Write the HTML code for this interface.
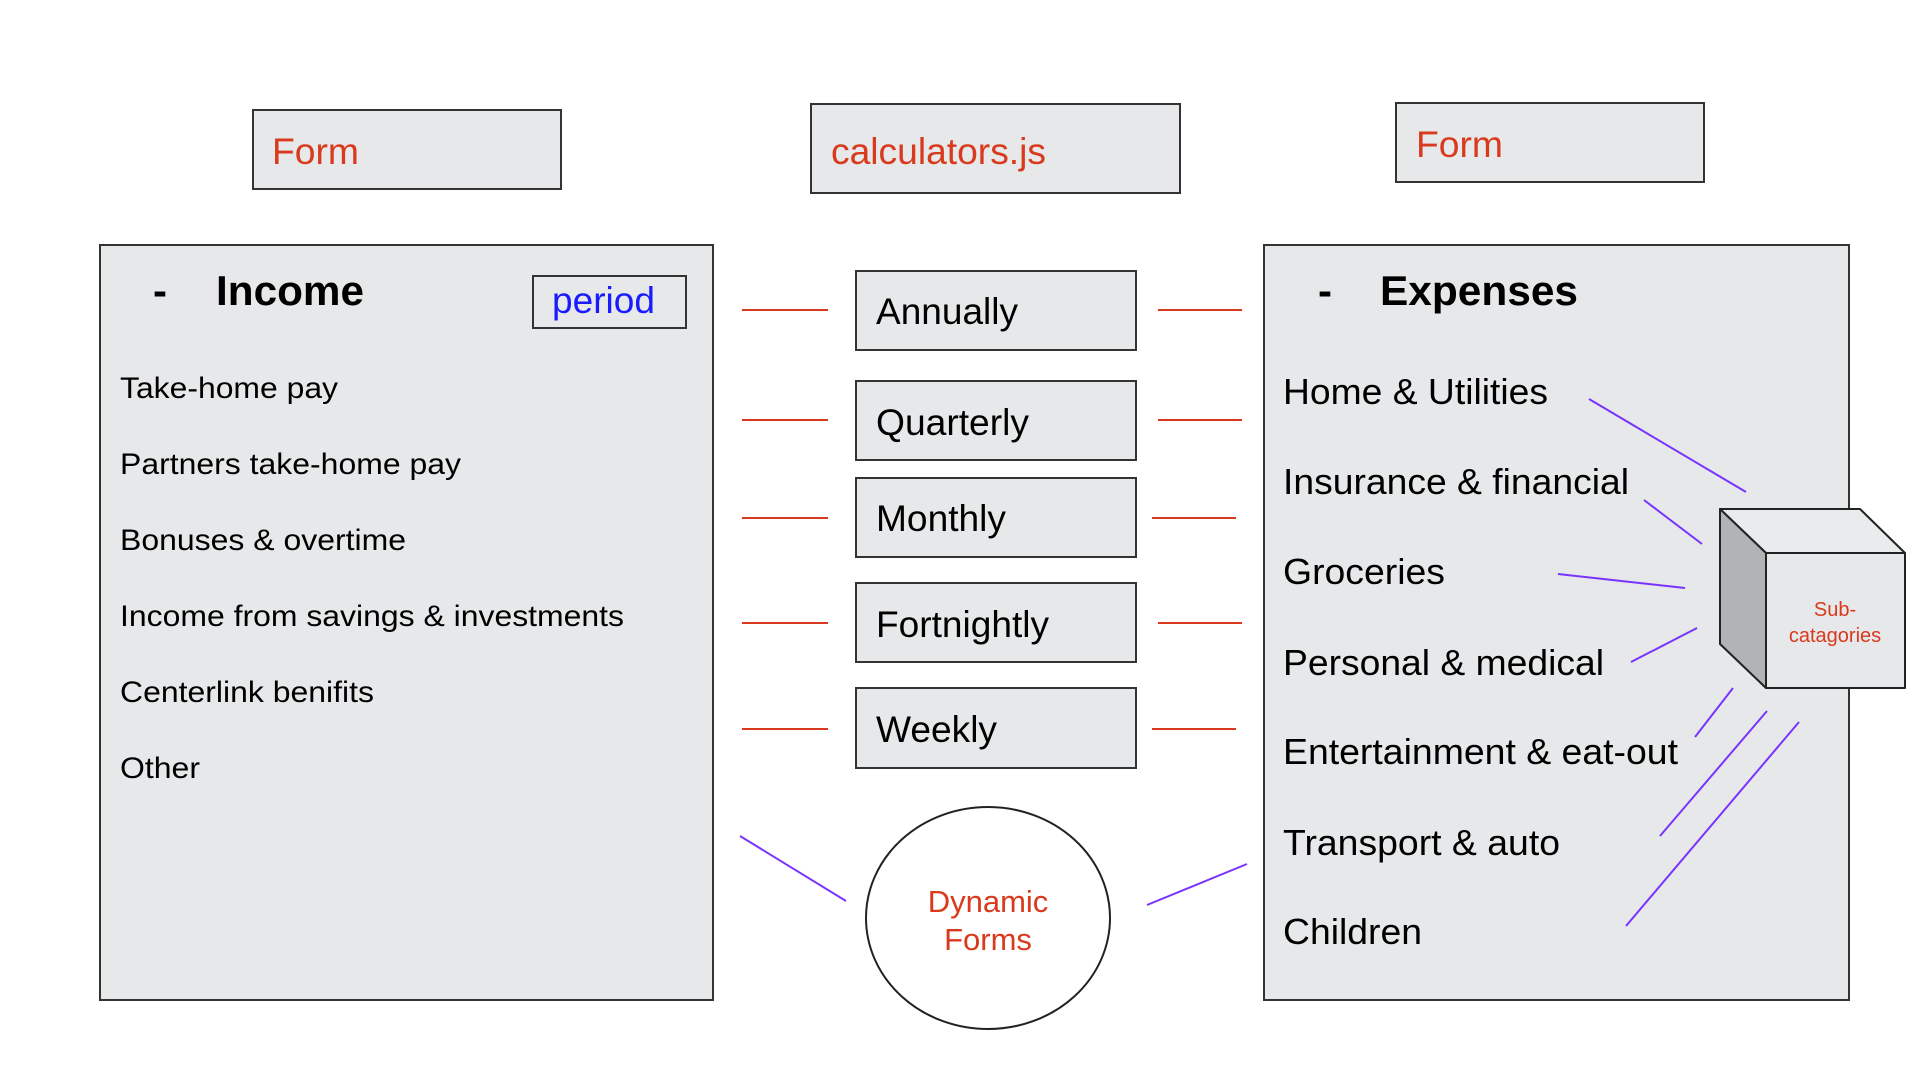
<!DOCTYPE html>
<html><head><meta charset="utf-8"><style>html,body{margin:0;padding:0;background:#fff}svg{display:block}</style></head>
<body>
<svg width="1920" height="1080" viewBox="0 0 1920 1080" xmlns="http://www.w3.org/2000/svg" font-family="Liberation Sans, Arial, sans-serif">
<g fill="#e6e8e9" stroke="#333" stroke-width="2">
<rect x="253" y="110" width="308" height="79"/>
<rect x="811" y="104" width="369" height="89"/>
<rect x="1396" y="103" width="308" height="79"/>
<rect x="100" y="245" width="613" height="755"/>
<rect x="1264" y="245" width="585" height="755"/>
<rect x="533" y="276" width="153" height="52"/>
<rect x="856" y="271" width="280" height="79"/>
<rect x="856" y="381" width="280" height="79"/>
<rect x="856" y="478" width="280" height="79"/>
<rect x="856" y="583" width="280" height="79"/>
<rect x="856" y="688" width="280" height="80"/>
</g>
<ellipse cx="988" cy="918" rx="122" ry="111" fill="#fff" stroke="#222" stroke-width="2"/>
<g stroke="#d9391c" stroke-width="2">
<line x1="742" y1="310" x2="828" y2="310"/><line x1="1158" y1="310" x2="1242" y2="310"/>
<line x1="742" y1="420" x2="828" y2="420"/><line x1="1158" y1="420" x2="1242" y2="420"/>
<line x1="742" y1="518" x2="828" y2="518"/><line x1="1152" y1="518" x2="1236" y2="518"/>
<line x1="742" y1="623" x2="828" y2="623"/><line x1="1158" y1="623" x2="1242" y2="623"/>
<line x1="742" y1="729" x2="828" y2="729"/><line x1="1152" y1="729" x2="1236" y2="729"/>
</g>
<g stroke="#7a33ff" stroke-width="2">
<line x1="740" y1="836" x2="846" y2="901"/>
<line x1="1147" y1="905" x2="1247" y2="864"/>
<line x1="1589" y1="399" x2="1746" y2="492"/>
<line x1="1644" y1="500" x2="1702" y2="544"/>
<line x1="1558" y1="574" x2="1685" y2="588"/>
<line x1="1631" y1="662" x2="1697" y2="628"/>
<line x1="1695" y1="737" x2="1733" y2="688"/>
<line x1="1660" y1="836" x2="1767" y2="711"/>
<line x1="1626" y1="926" x2="1799" y2="722"/>
</g>
<g stroke="#222" stroke-width="2" stroke-linejoin="round">
<polygon points="1720,509 1860,509 1905,553 1766,553" fill="#e9eced"/>
<polygon points="1720,509 1766,553 1766,688 1720,644" fill="#b1b4b5"/>
<rect x="1766" y="553" width="139" height="135" fill="#e6e8e9"/>
</g>
<g fill="#d9391c">
<text x="272" y="164" font-size="37" textLength="87" lengthAdjust="spacingAndGlyphs">Form</text>
<text x="831" y="164" font-size="37" textLength="215" lengthAdjust="spacingAndGlyphs">calculators.js</text>
<text x="1416" y="157" font-size="37" textLength="87" lengthAdjust="spacingAndGlyphs">Form</text>
<text x="988" y="912" font-size="31" text-anchor="middle">Dynamic</text>
<text x="988" y="950" font-size="31" text-anchor="middle">Forms</text>
<text x="1835" y="616" font-size="20" text-anchor="middle">Sub-</text>
<text x="1835" y="642" font-size="20" text-anchor="middle">catagories</text>
</g>
<text x="552" y="313" font-size="37" fill="#1a1aff" textLength="103" lengthAdjust="spacingAndGlyphs">period</text>
<g fill="#000" font-weight="bold" font-size="42">
<text x="153" y="305">-</text><text x="216" y="305" textLength="148" lengthAdjust="spacingAndGlyphs">Income</text>
<text x="1318" y="305">-</text><text x="1380" y="305" textLength="198" lengthAdjust="spacingAndGlyphs">Expenses</text>
</g>
<g fill="#000" font-size="30">
<text x="120" y="398" textLength="218" lengthAdjust="spacingAndGlyphs">Take-home pay</text>
<text x="120" y="474" textLength="341" lengthAdjust="spacingAndGlyphs">Partners take-home pay</text>
<text x="120" y="550" textLength="286" lengthAdjust="spacingAndGlyphs">Bonuses &amp; overtime</text>
<text x="120" y="626" textLength="504" lengthAdjust="spacingAndGlyphs">Income from savings &amp; investments</text>
<text x="120" y="702" textLength="254" lengthAdjust="spacingAndGlyphs">Centerlink benifits</text>
<text x="120" y="778" textLength="80" lengthAdjust="spacingAndGlyphs">Other</text>
</g>
<g fill="#000" font-size="37">
<text x="876" y="324" textLength="142" lengthAdjust="spacingAndGlyphs">Annually</text>
<text x="876" y="435" textLength="153" lengthAdjust="spacingAndGlyphs">Quarterly</text>
<text x="876" y="531" textLength="130" lengthAdjust="spacingAndGlyphs">Monthly</text>
<text x="876" y="637" textLength="173" lengthAdjust="spacingAndGlyphs">Fortnightly</text>
<text x="876" y="742" textLength="121" lengthAdjust="spacingAndGlyphs">Weekly</text>
</g>
<g fill="#000" font-size="36">
<text x="1283" y="404" textLength="265" lengthAdjust="spacingAndGlyphs">Home &amp; Utilities</text>
<text x="1283" y="494" textLength="346" lengthAdjust="spacingAndGlyphs">Insurance &amp; financial</text>
<text x="1283" y="584" textLength="162" lengthAdjust="spacingAndGlyphs">Groceries</text>
<text x="1283" y="675" textLength="321" lengthAdjust="spacingAndGlyphs">Personal &amp; medical</text>
<text x="1283" y="764" textLength="395" lengthAdjust="spacingAndGlyphs">Entertainment &amp; eat-out</text>
<text x="1283" y="855" textLength="277" lengthAdjust="spacingAndGlyphs">Transport &amp; auto</text>
<text x="1283" y="944" textLength="139" lengthAdjust="spacingAndGlyphs">Children</text>
</g>
</svg>
</body></html>
